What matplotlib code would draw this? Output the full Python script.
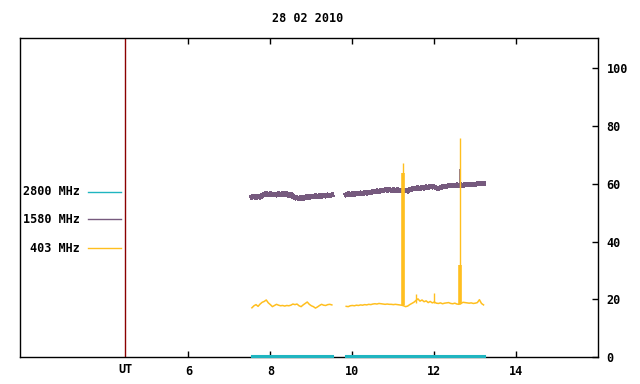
import numpy as np
import matplotlib.pyplot as plt
from matplotlib.lines import Line2D

# time grids (UT hours) for the two observing segments
t_seg1 = np.round(np.linspace(7.55, 9.50, 40), 2)
t_seg2 = np.round(np.linspace(9.85, 13.20, 68), 2)

# 1580 MHz flux
f1580_seg1 = [55.4, 55.7, 55.2, 55.6, 55.3, 55.9, 56.3, 56.6, 56.2, 56.5,
              56.1, 56.4, 56.0, 56.5, 56.2, 56.6, 56.3, 56.5, 55.9, 56.3,
              55.6, 55.0, 55.1, 54.9, 55.2, 54.8, 55.3, 55.5, 55.2, 55.7,
              55.4, 55.8, 55.5, 55.9, 55.6, 56.0, 55.7, 56.1, 55.8, 56.1]
f1580_seg2 = [56.2, 56.5, 56.1, 56.6, 56.3, 56.7, 56.4, 56.8, 56.5, 56.9,
              56.7, 57.1, 56.9, 57.3, 57.1, 57.5, 57.3, 57.7, 57.5, 57.9,
              57.7, 58.0, 57.7, 57.9, 57.6, 57.9, 57.6, 57.8, 57.5, 57.7,
              57.4, 57.9, 58.1, 58.4, 58.2, 58.6, 58.3, 58.6, 58.4, 58.9,
              58.7, 59.1, 58.8, 58.9, 58.5, 58.3, 58.6, 58.9, 59.2, 59.0,
              59.4, 59.2, 59.5, 59.2, 59.6, 59.3, 59.6, 59.4, 59.7, 59.5,
              59.8, 59.6, 59.9, 59.7, 60.0, 59.9, 60.2, 60.1]

# 403 MHz flux
f403_seg1 = [17.1, 17.8, 18.2, 17.6, 18.4, 19.0, 19.3, 19.8, 18.8, 18.2,
             17.5, 17.9, 18.3, 18.0, 17.8, 17.9, 17.7, 17.9, 17.8, 18.0,
             18.4, 18.2, 18.4, 17.8, 17.5, 18.1, 18.6, 19.1, 18.3, 17.8,
             17.5, 17.0, 17.4, 17.9, 18.3, 18.0, 17.9, 18.2, 18.3, 18.1]
f403_seg2 = [17.6, 17.5, 17.8, 17.9, 17.8, 18.0, 17.9, 18.1, 18.0, 18.2,
             18.1, 18.3, 18.2, 18.4, 18.5, 18.4, 18.6, 18.5, 18.4, 18.3,
             18.4, 18.3, 18.3, 18.2, 18.3, 18.2, 18.1, 18.0, 17.8, 17.5,
             17.7, 18.2, 18.6, 19.0, 19.6, 20.2, 19.4, 19.8, 19.2, 19.5,
             18.9, 19.3, 18.8, 19.1, 18.7, 18.6, 18.8, 18.5, 18.7, 18.8,
             18.9, 18.6, 18.5, 18.7, 18.4, 18.3, 18.6, 19.0, 18.9, 18.8,
             18.7, 18.8, 18.6, 18.7, 18.9, 19.9, 18.6, 18.1]

# short bursts (time, baseline, peak)
spike403_t = [11.23, 11.56, 11.98, 12.63]
spike403_base = [18.0, 18.6, 18.8, 18.4]
spike403_top = [67.0, 21.9, 22.2, 75.8]
burst403_t = [11.23, 12.63]
burst403_top = [63.5, 32.0]
spike1580_t = [12.63]
spike1580_base = [59.5]
spike1580_top = [65.0]

# 2800 MHz (flat near zero)
t2800_seg1 = [7.55, 9.50]
t2800_seg2 = [9.85, 13.20]
f2800 = [0.3, 0.3]

c2800 = '#1fb5c0'
c1580 = '#765a7e'
c403 = '#ffbf1f'

font = dict(family='DejaVu Sans Mono', weight='bold', size=8.5)

fig = plt.figure(figsize=(6.4, 3.84), dpi=100)
ax = fig.add_axes([20.3/640, 1-357.3/384, 578/640, 319/384])

ax.plot(t2800_seg1, f2800, color=c2800, lw=2.2, clip_on=False, zorder=3)
ax.plot(t2800_seg2, f2800, color=c2800, lw=2.2, clip_on=False, zorder=3)

ax.plot(t_seg1, f1580_seg1, color=c1580, lw=2.8, antialiased=False)
ax.plot(t_seg2, f1580_seg2, color=c1580, lw=2.8, antialiased=False)
ax.vlines(spike1580_t, spike1580_base, spike1580_top, color=c1580, lw=1.2)

ax.plot(t_seg1, f403_seg1, color=c403, lw=1.1)
ax.plot(t_seg2, f403_seg2, color=c403, lw=1.1)
ax.vlines(spike403_t, spike403_base, spike403_top, color=c403, lw=1.0)
ax.vlines(burst403_t, [18.0, 18.4], burst403_top, color=c403, lw=2.6)

ax.axvline(4.46, color='#8b0000', lw=1.0)

ax.set_xlim(1.9, 16.0)
ax.set_ylim(0, 110.2)

ax.set_xticks([6, 8, 10, 12, 14])
ax.set_xticklabels(['6', '8', '10', '12', '14'], fontdict=font)
ax.yaxis.tick_right()
ax.set_yticks([0, 20, 40, 60, 80, 100])
ax.set_yticklabels(['0', '20', '40', '60', '80', '100'], fontdict=font)
ax.tick_params(axis='x', top=True, direction='in', length=4, width=1, pad=5.5)
ax.tick_params(axis='y', left=False, right=True, direction='in', length=4,
               width=1, pad=6)
for s in ax.spines.values():
    s.set_linewidth(1.0)

ax.text(4.46, -0.018, 'UT', transform=ax.get_xaxis_transform(),
        ha='center', va='top', **font)

fig.text(308/640, 1-18/384, '28 02 2010', ha='center', va='center', **font)

legend = [('2800 MHz', c2800, 191.7), ('1580 MHz', c1580, 219.3),
          ('403 MHz', c403, 248.3)]
for label, col, ypix in legend:
    fig.text(80/640, 1-ypix/384, label, ha='right', va='center', **font)
    fig.add_artist(Line2D([88/640, 121/640], [1-ypix/384]*2, color=col, lw=1.0,
                          transform=fig.transFigure))

fig.savefig('out.png', dpi=100)
